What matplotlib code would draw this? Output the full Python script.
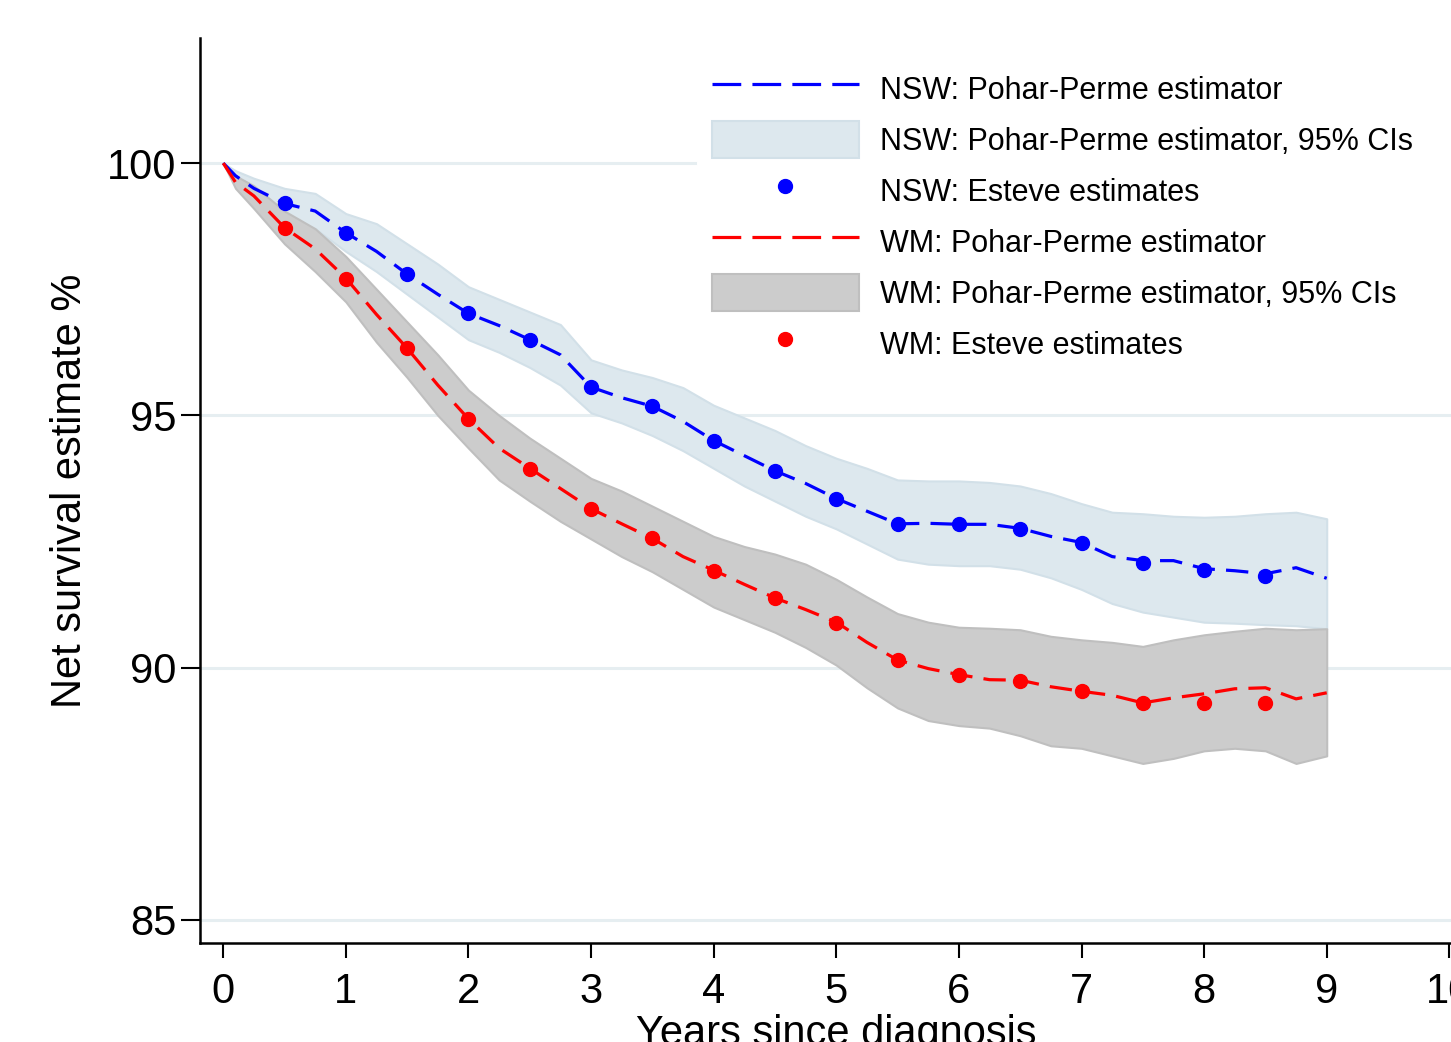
import matplotlib
matplotlib.use("Agg")
import matplotlib.pyplot as plt

plt.rcParams['font.family'] = ['Liberation Sans', 'DejaVu Sans']

# time grid (years since diagnosis)
t = [0, 0.1, 0.25, 0.5, 0.75, 1.0, 1.25, 1.5, 1.75, 2.0, 2.25, 2.5, 2.75, 3.0,
     3.25, 3.5, 3.75, 4.0, 4.25, 4.5, 4.75, 5.0, 5.25, 5.5, 5.75, 6.0, 6.25,
     6.5, 6.75, 7.0, 7.25, 7.5, 7.75, 8.0, 8.25, 8.5, 8.75, 9.0]

nsw_pp = [100, 99.75, 99.5, 99.2, 99.05, 98.62, 98.25, 97.8, 97.4, 97.02, 96.78,
          96.5, 96.2, 95.56, 95.35, 95.18, 94.88, 94.5, 94.2, 93.9, 93.65, 93.35,
          93.1, 92.85, 92.86, 92.84, 92.84, 92.76, 92.6, 92.48, 92.2, 92.12, 92.12,
          91.96, 91.92, 91.86, 91.98, 91.77]
nsw_hi = [100, 99.85, 99.7, 99.5, 99.4, 99.0, 98.8, 98.4, 98.0, 97.55, 97.3, 97.05,
          96.8, 96.1, 95.9, 95.75, 95.55, 95.2, 94.95, 94.7, 94.4, 94.15, 93.95,
          93.72, 93.7, 93.7, 93.67, 93.6, 93.45, 93.25, 93.08, 93.05, 93.0, 92.98,
          93.0, 93.05, 93.08, 92.95]
nsw_lo = [100, 99.65, 99.3, 98.95, 98.7, 98.25, 97.85, 97.4, 96.95, 96.5, 96.25,
          95.95, 95.6, 95.05, 94.85, 94.6, 94.3, 93.95, 93.6, 93.3, 93.0, 92.75,
          92.45, 92.15, 92.05, 92.02, 92.02, 91.95, 91.78, 91.55, 91.27, 91.1, 91.0,
          90.9, 90.88, 90.85, 90.83, 90.77]

wm_pp = [100, 99.62, 99.35, 98.72, 98.3, 97.72, 97.0, 96.33, 95.6, 94.93, 94.35,
         93.95, 93.55, 93.15, 92.85, 92.56, 92.2, 91.93, 91.65, 91.38, 91.15, 90.9,
         90.5, 90.15, 89.98, 89.86, 89.76, 89.75, 89.62, 89.53, 89.45, 89.3, 89.4,
         89.48, 89.58, 89.6, 89.38, 89.5]
wm_hi = [100, 99.75, 99.55, 99.05, 98.7, 98.15, 97.5, 96.85, 96.2, 95.5, 95.0, 94.55,
         94.15, 93.75, 93.5, 93.2, 92.9, 92.6, 92.4, 92.25, 92.05, 91.75, 91.4,
         91.07, 90.9, 90.8, 90.78, 90.75, 90.62, 90.55, 90.5, 90.42, 90.55, 90.65,
         90.72, 90.78, 90.75, 90.77]
wm_lo = [100, 99.5, 99.1, 98.4, 97.85, 97.25, 96.45, 95.75, 95.0, 94.35, 93.72, 93.3,
         92.9, 92.55, 92.2, 91.9, 91.55, 91.2, 90.95, 90.7, 90.4, 90.05, 89.6, 89.2,
         88.95, 88.85, 88.8, 88.65, 88.45, 88.4, 88.25, 88.1, 88.2, 88.35, 88.4,
         88.35, 88.1, 88.25]

# Esteve estimates, every half year
t_est = [0.5, 1, 1.5, 2, 2.5, 3, 3.5, 4, 4.5, 5, 5.5, 6, 6.5, 7, 7.5, 8, 8.5]
nsw_est = [99.21, 98.61, 97.8, 97.02, 96.49, 95.56, 95.18, 94.5, 93.89, 93.35,
           92.84, 92.84, 92.74, 92.46, 92.08, 91.94, 91.81]
wm_est = [98.71, 97.7, 96.33, 94.92, 93.93, 93.15, 92.56, 91.92, 91.37, 90.89,
          90.16, 89.86, 89.74, 89.54, 89.29, 89.29, 89.29]

xticks = list(range(0, 11))
yticks = [85, 90, 95, 100]

fig = plt.figure(figsize=(14.51, 10.42), dpi=100)
ax = fig.add_axes([0.1378, 0.095, 0.8864, 0.8685])

# grid; the top one is hidden behind the legend box on the right
for y in yticks:
    xmax = 0.385 if y == 100 else 1
    ax.axhline(y, xmax=xmax, color='#e6eef1', lw=2.2, zorder=0)

ax.fill_between(t, nsw_lo, nsw_hi, facecolor='#dde8ee', edgecolor='#d2e0e8',
                lw=1.5, zorder=1, label='NSW: Pohar-Perme estimator, 95% CIs')
ax.fill_between(t, wm_lo, wm_hi, facecolor='#cccccc', edgecolor='#bfbfbf',
                lw=1.5, zorder=2, label='WM: Pohar-Perme estimator, 95% CIs')

ax.plot(t, nsw_pp, color='#0000ff', lw=2.3, dashes=(7, 3.5), zorder=3,
        label='NSW: Pohar-Perme estimator')
ax.plot(t, wm_pp, color='#ff0000', lw=2.3, dashes=(7, 3.5), zorder=3,
        label='WM: Pohar-Perme estimator')
ax.plot(t_est, nsw_est, 'o', color='#0000ff', ms=10, zorder=4,
        label='NSW: Esteve estimates')
ax.plot(t_est, wm_est, 'o', color='#ff0000', ms=10, zorder=4,
        label='WM: Esteve estimates')

ax.set_xlim(-0.19, 10.3)
ax.set_ylim(84.54, 102.48)
ax.set_xticks(xticks)
ax.set_yticks(yticks)
ax.tick_params(axis='x', length=11, width=1.5, labelsize=30, pad=10)
ax.tick_params(axis='y', length=14, width=1.5, labelsize=30, pad=3)
for s in ['top', 'right']:
    ax.spines[s].set_visible(False)
for s in ['left', 'bottom']:
    ax.spines[s].set_linewidth(1.8)

ax.set_ylabel('Net survival estimate %', fontsize=30, labelpad=12)
ax.set_xlabel('Years since diagnosis', fontsize=30, labelpad=2)
ax.xaxis.set_label_coords(0.4948, -0.078)

h, lab = ax.get_legend_handles_labels()
order = ['NSW: Pohar-Perme estimator', 'NSW: Pohar-Perme estimator, 95% CIs',
         'NSW: Esteve estimates', 'WM: Pohar-Perme estimator',
         'WM: Pohar-Perme estimator, 95% CIs', 'WM: Esteve estimates']
hd = dict(zip(lab, h))
leg = fig.legend([hd[k] for k in order], order, loc='upper left',
                 bbox_to_anchor=(0.479, 0.949), borderaxespad=0, fontsize=22,
                 frameon=False, handlelength=4.8, handleheight=1.5,
                 labelspacing=0.45, handletextpad=0.7, borderpad=0.55,
                 numpoints=1)
# longer dashes for the two estimator lines in the key
for i in (0, 3):
    leg.legend_handles[i].set_dashes((9, 3.5))

fig.savefig('out.png', dpi=100)
